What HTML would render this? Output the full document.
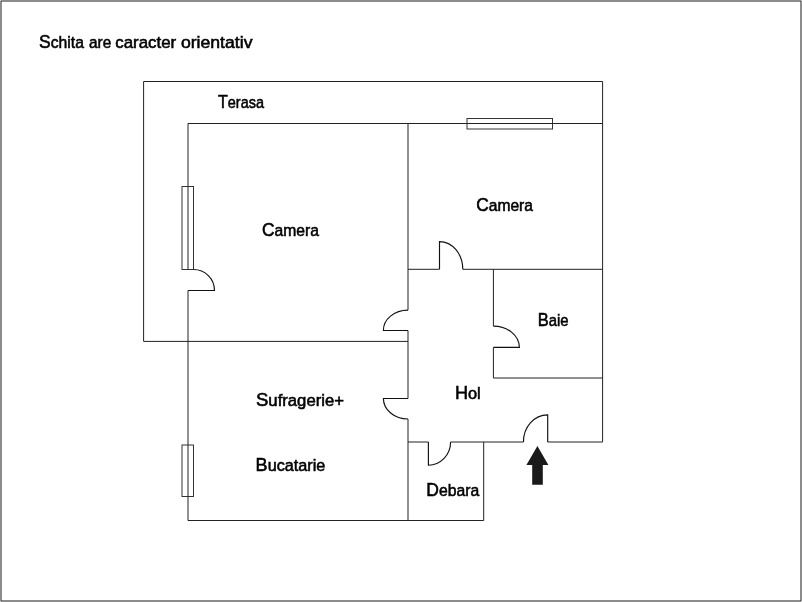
<!DOCTYPE html>
<html>
<head>
<meta charset="utf-8">
<style>
html, body { margin: 0; padding: 0; background: #fff; }
body { width: 802px; height: 602px; overflow: hidden; }
svg { display: block; }
text { font-family: "Liberation Sans", sans-serif; font-size: 16.4px; fill: #000; stroke: #000; stroke-width: 0.55px; }
.txt { will-change: transform; }
</style>
</head>
<body>
<svg width="802" height="602" viewBox="0 0 802 602">
<rect x="0" y="0" width="802" height="602" fill="#fff"/>
<!-- outer frame -->
<rect x="1" y="1" width="800" height="600" fill="none" stroke="#8c8c8c" stroke-width="2"/>
<g fill="#d0d0d0"><rect x="0" y="0" width="1" height="1"/><rect x="801" y="0" width="1" height="1"/><rect x="0" y="601" width="1" height="1"/><rect x="801" y="601" width="1" height="1"/></g>
<g fill="#626262"><rect x="1" y="1" width="1" height="1"/><rect x="800" y="1" width="1" height="1"/><rect x="1" y="600" width="1" height="1"/><rect x="800" y="600" width="1" height="1"/></g>


<g fill="none" stroke="#222" stroke-width="1">
  <!-- terrace outline -->
  <polyline points="408,341.4 143.6,341.4 143.6,81.5 602.6,81.5 602.6,442"/>
  <!-- inner top wall -->
  <line x1="188" y1="123.5" x2="602.6" y2="123.5"/>
  <!-- left wall x=188 -->
  <line x1="188" y1="123.5" x2="188" y2="269.5"/>
  <line x1="188" y1="290.5" x2="188" y2="520.5"/>
  <!-- bottom -->
  <line x1="188" y1="520.5" x2="483.7" y2="520.5"/>
  <!-- debara right -->
  <line x1="483.7" y1="442" x2="483.7" y2="520.5"/>
  <!-- wall x=408 -->
  <line x1="408" y1="123.5" x2="408" y2="310.1"/>
  <line x1="408" y1="330.5" x2="408" y2="398.5"/>
  <line x1="408" y1="419" x2="408" y2="520.5"/>
  <!-- horizontal y=269.3 -->
  <line x1="408" y1="269.3" x2="439.5" y2="269.3"/>
  <line x1="462.8" y1="269.3" x2="602.6" y2="269.3"/>
  <!-- baie -->
  <line x1="493.4" y1="269.3" x2="493.4" y2="326.1"/>
  <line x1="493.4" y1="347.4" x2="493.4" y2="378"/>
  <line x1="493.4" y1="378" x2="602.6" y2="378"/>
  <!-- hall bottom -->
  <line x1="408" y1="442" x2="428.4" y2="442"/>
  <line x1="450.6" y1="442" x2="523.5" y2="442"/>
  <line x1="547.7" y1="442" x2="602.6" y2="442"/>

</g>
<g fill="none" stroke="#111" stroke-width="1.15">
  <!-- doors -->
  <!-- left camera door -->
  <path d="M193.5 269.5 A21 21 0 0 1 214.5 290.5 L188 290.5"/>
  <!-- camera right door -->
  <path d="M439.5 269.3 L439.5 241.6 A23.3 27.7 0 0 1 462.8 269.3"/>
  <!-- door on x=408 (camera left) -->
  <path d="M408 310.1 A24.6 20.2 0 0 0 383.4 330.5 L408 330.5"/>
  <!-- door on x=408 (sufragerie) -->
  <path d="M408 398.5 L383.4 398.5 A24.6 20.5 0 0 0 408 419"/>
  <!-- baie door -->
  <path d="M493.4 326.1 A26 21.3 0 0 1 519.4 347.4 L493.4 347.4"/>
  <!-- debara door -->
  <path d="M428.4 442 L428.4 465.2 A22.2 23.3 0 0 0 450.6 442"/>
  <!-- entrance door -->
  <path d="M523.5 442 A24.2 26.6 0 0 1 547.7 414.8 L547.7 442"/>
</g>

<g fill="#fff" stroke="#333" stroke-width="1">
  <!-- windows -->
  <rect x="182" y="186.5" width="11.5" height="83"/>
  <rect x="182" y="445" width="11.5" height="51.5"/>
  <rect x="467" y="118.5" width="85.5" height="10.5"/>
</g>
<g stroke="#222" stroke-width="1">
  <line x1="188" y1="186.5" x2="188" y2="269.5"/>
  <line x1="188" y1="445" x2="188" y2="496.5"/>
  <line x1="467.1" y1="123.5" x2="552.7" y2="123.5"/>
</g>

<!-- arrow -->
<polygon points="537.4,446 548.4,465 542.8,465 542.8,484.8 532.2,484.8 532.2,465 526.4,465" fill="#1a1a1a"/>


<g class="txt">
<text x="39.10" y="47.60" textLength="44.90" lengthAdjust="spacingAndGlyphs"><tspan font-size="18.2">S</tspan>chita</text>
<text x="89.00" y="47.60" textLength="22.20" lengthAdjust="spacingAndGlyphs">are</text>
<text x="115.20" y="47.60" textLength="61.00" lengthAdjust="spacingAndGlyphs">caracter</text>
<text x="180.90" y="47.60" textLength="71.60" lengthAdjust="spacingAndGlyphs">orientativ</text>
<text x="218.00" y="107.80" textLength="46.00" lengthAdjust="spacingAndGlyphs"><tspan font-size="18.2">T</tspan>erasa</text>
<text x="262.00" y="235.80" textLength="57.00" lengthAdjust="spacingAndGlyphs"><tspan font-size="18.2">C</tspan>amera</text>
<text x="476.20" y="210.80" textLength="56.80" lengthAdjust="spacingAndGlyphs"><tspan font-size="18.2">C</tspan>amera</text>
<text x="537.70" y="325.80" textLength="30.80" lengthAdjust="spacingAndGlyphs"><tspan font-size="18.2">B</tspan>aie</text>
<text x="454.90" y="399.00" textLength="25.80" lengthAdjust="spacingAndGlyphs"><tspan font-size="18.2">H</tspan>ol</text>
<text x="256.00" y="405.60" textLength="88.00" lengthAdjust="spacingAndGlyphs"><tspan font-size="18.2">S</tspan>ufragerie+</text>
<text x="255.60" y="471.00" textLength="69.80" lengthAdjust="spacingAndGlyphs"><tspan font-size="18.2">B</tspan>ucatarie</text>
<text x="426.30" y="496.30" textLength="52.90" lengthAdjust="spacingAndGlyphs"><tspan font-size="18.2">D</tspan>ebara</text>
</g>
</svg>
</body>
</html>
